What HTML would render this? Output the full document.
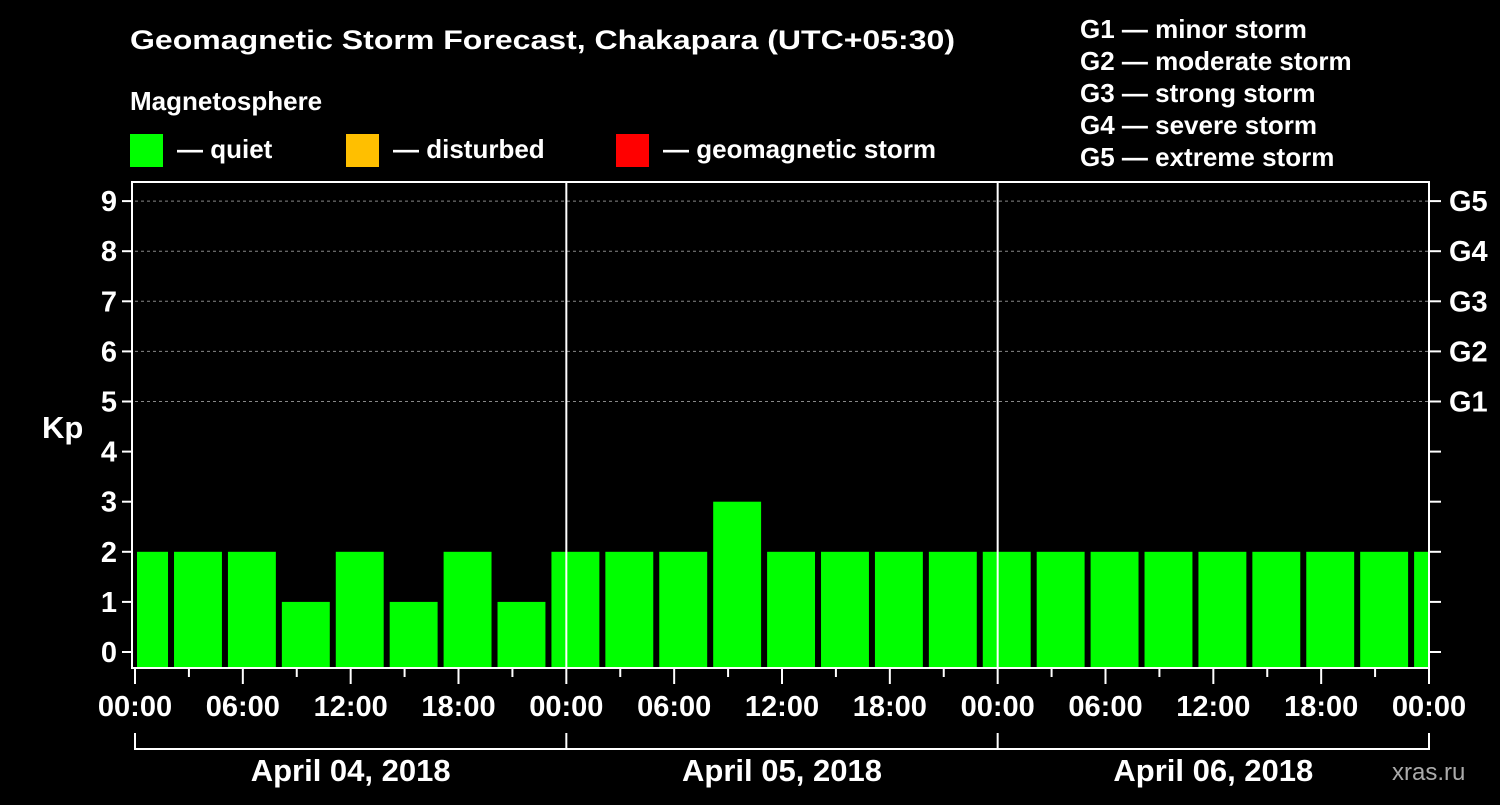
<!DOCTYPE html>
<html><head><meta charset="utf-8"><style>
body{margin:0;background:#000;width:1500px;height:800px;overflow:hidden}
svg text{font-family:"Liberation Sans",Arial,sans-serif;font-weight:bold;fill:#fff}
</style></head><body>
<svg id="chart" width="1500" height="800" xmlns="http://www.w3.org/2000/svg">
<text x="130" y="49" font-size="27" textLength="825" lengthAdjust="spacingAndGlyphs">Geomagnetic Storm Forecast, Chakapara (UTC+05:30)</text>
<text x="130" y="110" font-size="26">Magnetosphere</text>
<rect x="130" y="134" width="33" height="33" fill="#00ff00"/>
<text x="177" y="158" font-size="26">— quiet</text>
<rect x="346" y="134" width="33" height="33" fill="#ffbf00"/>
<text x="393" y="158" font-size="26">— disturbed</text>
<rect x="616" y="134" width="33" height="33" fill="#ff0000"/>
<text x="663" y="158" font-size="26">— geomagnetic storm</text>
<g font-size="26">
<text x="1080" y="38">G1 — minor storm</text>
<text x="1080" y="70">G2 — moderate storm</text>
<text x="1080" y="102">G3 — strong storm</text>
<text x="1080" y="134">G4 — severe storm</text>
<text x="1080" y="166">G5 — extreme storm</text>
</g>
<text x="42" y="438" font-size="31">Kp</text>
<text x="1392" y="780" font-size="24" style="font-weight:normal;fill:#aaa">xras.ru</text>
<g id="grid"></g><g id="bars"></g><g id="axes"></g>
</svg>
<script>
const kpValues=[2,2,2,1,2,1,2,1,2,2,2,3,2,2,2,2,2,2,2,2,2,2,2,2,2];
const yTicks=[0,1,2,3,4,5,6,7,8,9];
const gLabels=["G1","G2","G3","G4","G5"];
const gLevels=[5,6,7,8,9];
const xTickLabels=["00:00","06:00","12:00","18:00","00:00","06:00","12:00","18:00","00:00","06:00","12:00","18:00","00:00"];
const dayLabels=["April 04, 2018","April 05, 2018","April 06, 2018"];
const NS="http://www.w3.org/2000/svg";
const L=135,R=1429,T=182,B=668,Y0=652,YU=50.1,HOURS=72,BIN_OFFSET=-0.94;
const x=h=>L+h*(R-L)/HOURS;
const y=v=>Y0-v*YU;
function mk(p,tag,a){const e=document.createElementNS(NS,tag);for(const k in a)e.setAttribute(k,a[k]);document.getElementById(p).appendChild(e);return e;}
gLevels.forEach((v,i)=>{
 const l=mk('grid','line',{x1:L,x2:R,y1:y(v),y2:y(v),stroke:'#888','stroke-dasharray':'3,3','stroke-width':1});
 
 
});
kpValues.forEach((v,i)=>{
 let x0=x(BIN_OFFSET+3*i)+2,x1=x(BIN_OFFSET+3*i+3)-4;
 x0=Math.max(x0,L+2);x1=Math.min(x1,R-1);
 const c=v>=5?'#ff0000':(v>=4?'#ffbf00':'#00ff00');
 const r=mk('bars','rect',{x:x0,y:y(v),width:x1-x0,height:B-y(v),fill:c});
 
 
});
const frame=mk('axes','rect',{x:132,y:T,width:R-132,height:B-T,fill:'none',stroke:'#fff','stroke-width':2});


[1,2].forEach(d=>{const l=mk('axes','line',{x1:x(24*d),x2:x(24*d),y1:T,y2:B,stroke:'#fff','stroke-width':2});
 
 });
yTicks.forEach(v=>{
 mk('axes','line',{x1:122,x2:132,y1:y(v),y2:y(v),stroke:'#fff','stroke-width':2});
 mk('axes','line',{x1:R,x2:1441,y1:y(v),y2:y(v),stroke:'#fff','stroke-width':2});
 const t=mk('axes','text',{x:117,y:y(v)+10,'font-size':29,'text-anchor':'end'});t.textContent=v;
 
 
});
gLevels.forEach((v,i)=>{const t=mk('axes','text',{x:1449,y:y(v)+10,'font-size':29});t.textContent=gLabels[i];
 
 });
for(let h=0;h<=HOURS;h+=3){mk('axes','line',{x1:x(h),x2:x(h),y1:B,y2:h%6?677:684,stroke:'#fff','stroke-width':2});}
xTickLabels.forEach((s,i)=>{const t=mk('axes','text',{x:x(6*i),y:716,'font-size':29,'text-anchor':'middle'});t.textContent=s;
 
 });
const br=mk('axes','path',{d:`M${x(0)} 733V749H${x(72)}V733M${x(24)} 733V749M${x(48)} 733V749`,fill:'none',stroke:'#fff','stroke-width':2});


dayLabels.forEach((s,i)=>{const t=mk('axes','text',{x:x(24*i+12),y:781,'font-size':31,'text-anchor':'middle'});t.textContent=s;
 
 });
</script>
</body></html>
